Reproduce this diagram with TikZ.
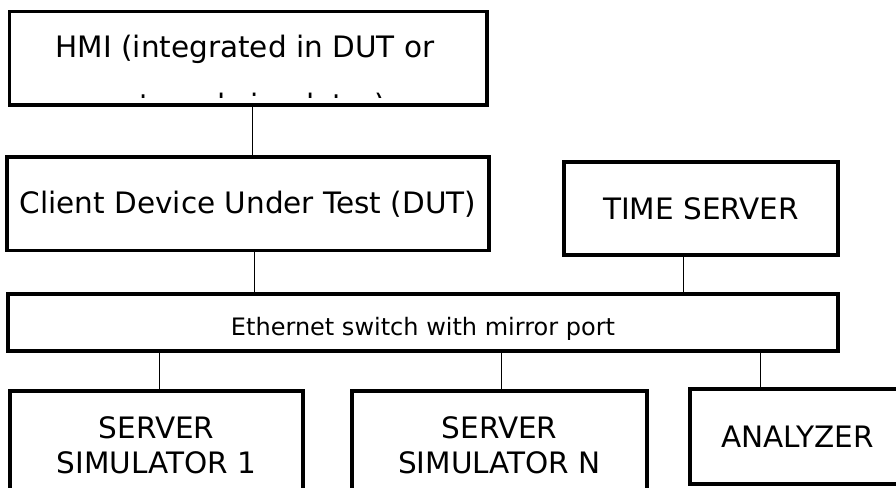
\documentclass[tikz,border=0pt]{standalone}
\usepackage{fontspec}
\setmainfont{DejaVu Sans}
\begin{document}
\begin{tikzpicture}[x=1pt,y=-1pt,
  box/.style={draw,line width=3.5pt,inner sep=0pt,align=center,font=\fontsize{29.5}{35}\selectfont},
  link/.style={line width=1pt}]
\useasboundingbox (0,0) rectangle (896,487);
\clip (0,0) rectangle (896,487);
\fill[white] (0,0) rectangle (896,487);

% HMI box, its second line is cut off
\node[box,minimum width=477.5pt,minimum height=93.5pt] (hmi) at (248,58.25) {};
\node[anchor=base,font=\fontsize{29.5}{35}\selectfont] (hmitop) at (245,57) {HMI (integrated in DUT or};
\begin{scope}
\clip (12,14) rectangle (485,97);
\node[anchor=base,font=\fontsize{29.5}{35}\selectfont] (hmibottom) at (245,115) {external simulator)};
\end{scope}

\node[box,minimum width=482pt,minimum height=93.5pt] (client) at (248,203.75) {Client Device Under Test (DUT)};
\node[box,minimum width=274pt,minimum height=93pt] (time) at (701,208.5) {TIME SERVER};
\node[box,minimum width=830pt,minimum height=57pt,font=\fontsize{24}{28}\selectfont,text height=25pt,text depth=0pt] (eth) at (423,322.5) {Ethernet switch with mirror port};

\node[box,minimum width=293pt,minimum height=109pt] (sim1) at (156.5,445.5) {SERVER\\SIMULATOR 1};
\node[box,minimum width=295pt,minimum height=109pt] (simN) at (499.5,445.5) {SERVER\\SIMULATOR N};
\node[box,minimum width=215pt,minimum height=95pt] (ana) at (797.5,436.5) {ANALYZER};

\draw[link] ([xshift=4pt]hmi.south) -- ([xshift=4pt]hmi.south |- client.north);
\draw[link] ([xshift=6pt]client.south) -- ([xshift=6pt]client.south |- eth.north);
\draw[link] ([xshift=-18pt]time.south) -- ([xshift=-18pt]time.south |- eth.north);
\draw[link] ([xshift=2.5pt]sim1.north) -- ([xshift=2.5pt]sim1.north |- eth.south);
\draw[link] ([xshift=1.5pt]simN.north) -- ([xshift=1.5pt]simN.north |- eth.south);
\draw[link] ([xshift=-37.5pt]ana.north) -- ([xshift=-37.5pt]ana.north |- eth.south);
\end{tikzpicture}
\end{document}
